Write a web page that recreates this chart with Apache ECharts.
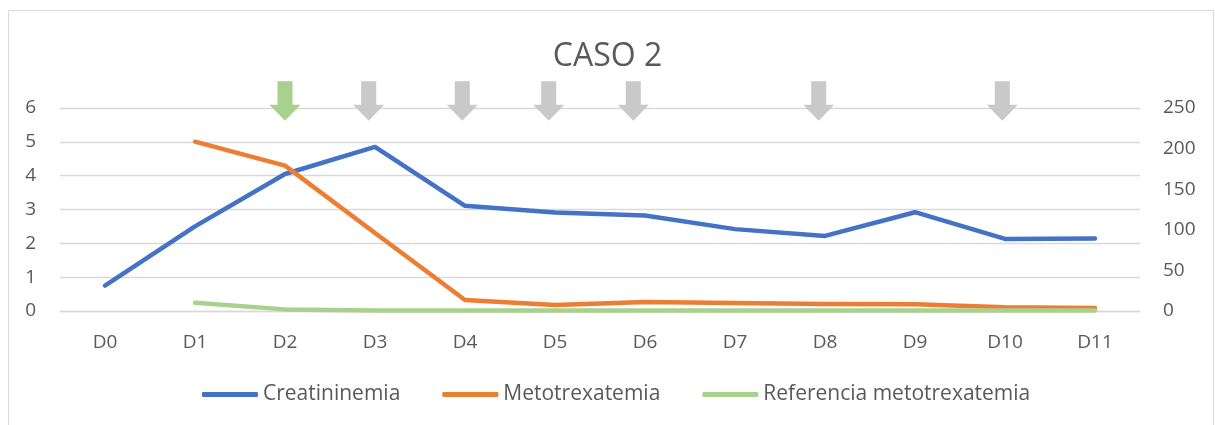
<!DOCTYPE html>
<html>
<head>
<meta charset="utf-8">
<title>CASO 2</title>
<script src="https://cdn.jsdelivr.net/npm/echarts@6/dist/echarts.min.js"></script>
<style>
  html, body { margin: 0; padding: 0; background: #ffffff; }
  #chart { width: 1215px; height: 425px; }
</style>
</head>
<body>
<div id="chart"></div>
<script>
// Days of follow-up
const days = ['D0', 'D1', 'D2', 'D3', 'D4', 'D5', 'D6', 'D7', 'D8', 'D9', 'D10', 'D11'];

// Serum creatinine (left axis)
const creatininemia = [0.75, 2.5, 4.05, 4.85, 3.11, 2.91, 2.82, 2.42, 2.22, 2.92, 2.13, 2.14];

// Methotrexate level and its reference curve (right axis)
const metotrexatemia = [null, 208.5, 179, 96, 13.5, 7.4, 11, 9.8, 8.6, 8.2, 4.5, 3.7];
const referenciaMetotrexatemia = [null, 10.2, 2, 0.5, 0.5, 0.5, 0.5, 0.5, 0.5, 0.5, 0.5, 0.5];

// Arrow markers along the day scale (first one highlighted)
const firstMarkDay = [2];
const laterMarkDays = [2.93, 3.97, 4.93, 5.87, 7.93, 9.97];

// Axis tick ranges
const leftTicks = { min: 0, max: 6, step: 1 };
const rightTicks = { min: 0, max: 250, step: 50 };

const FONT = '"Open Sans", "Noto Sans", sans-serif';
const TEXT = '#595959';
const GRID = '#D9D9D9';
const ARROW = 'path://M8,0 L23,0 L23,23.5 L31,23.5 L15.5,39.5 L0,23.5 L8,23.5 Z';

const chart = echarts.init(document.getElementById('chart'), null, { renderer: 'canvas' });

const markerSeries = (name, list, color) => ({
  name: name,
  type: 'scatter',
  xAxisIndex: 1,
  yAxisIndex: 0,
  data: list.map(d => [d, leftTicks.max]),
  symbol: ARROW,
  symbolSize: [31, 39.5],
  symbolOffset: [0, -7],
  itemStyle: { color: color, opacity: 1 },
  clip: false,
  silent: true,
  z: 5
});

const lineSeries = (name, values, color, axis, z) => ({
  name: name,
  type: 'line',
  xAxisIndex: 0,
  yAxisIndex: axis,
  data: values,
  showSymbol: false,
  symbol: 'none',
  connectNulls: false,
  lineStyle: { color: color, width: 4.5, cap: 'round', join: 'round' },
  itemStyle: { color: color },
  silent: true,
  z: z
});

chart.setOption({
  animation: false,
  backgroundColor: '#ffffff',
  textStyle: { fontFamily: FONT, color: TEXT },
  title: {
    text: 'CASO 2',
    left: 'center',
    top: 36,
    textStyle: { fontFamily: FONT, fontSize: 32, fontWeight: 'normal', color: TEXT }
  },
  graphic: [{
    type: 'rect',
    shape: { x: 8.5, y: 10.5, width: 1205, height: 440 },
    style: { fill: 'none', stroke: GRID, lineWidth: 1 },
    silent: true,
    z: -1
  }],
  legend: {
    data: ['Creatininemia', 'Metotrexatemia', 'Referencia metotrexatemia'],
    left: 197,
    top: 379,
    icon: 'roundRect',
    itemWidth: 56,
    itemHeight: 5,
    itemGap: 42,
    textStyle: { fontFamily: FONT, fontSize: 21, color: TEXT },
    selectedMode: false
  },
  grid: { left: 60, right: 75, top: 108, bottom: 114, containLabel: false },
  xAxis: [{
    type: 'category',
    data: days,
    boundaryGap: true,
    axisLine: { show: true, lineStyle: { color: GRID, width: 1.3 } },
    axisTick: { show: false },
    axisLabel: { fontFamily: FONT, fontSize: 19, color: TEXT, margin: 22 },
    splitLine: { show: false }
  }, {
    type: 'value',
    min: -0.5,
    max: days.length - 0.5,
    show: false,
    splitLine: { show: false }
  }],
  yAxis: [{
    type: 'value',
    position: 'left',
    min: leftTicks.min,
    max: leftTicks.max,
    interval: leftTicks.step,
    axisLine: { show: false },
    axisTick: { show: false },
    axisLabel: { fontFamily: FONT, fontSize: 19, color: TEXT, margin: 24 },
    splitLine: { show: true, lineStyle: { color: GRID, width: 1.3 } }
  }, {
    type: 'value',
    position: 'right',
    min: rightTicks.min,
    max: rightTicks.max,
    interval: rightTicks.step,
    axisLine: { show: false },
    axisTick: { show: false },
    axisLabel: { fontFamily: FONT, fontSize: 19, color: TEXT, margin: 23 },
    splitLine: { show: false }
  }],
  series: [
    lineSeries('Creatininemia', creatininemia, '#4472C4', 0, 3),
    lineSeries('Metotrexatemia', metotrexatemia, '#ED7D31', 1, 3),
    lineSeries('Referencia metotrexatemia', referenciaMetotrexatemia, '#A9D18E', 1, 4),
    markerSeries('marcaInicial', firstMarkDay, '#A9D18E'),
    markerSeries('marcas', laterMarkDays, '#C9C9C9')
  ]
});
</script>
</body>
</html>
